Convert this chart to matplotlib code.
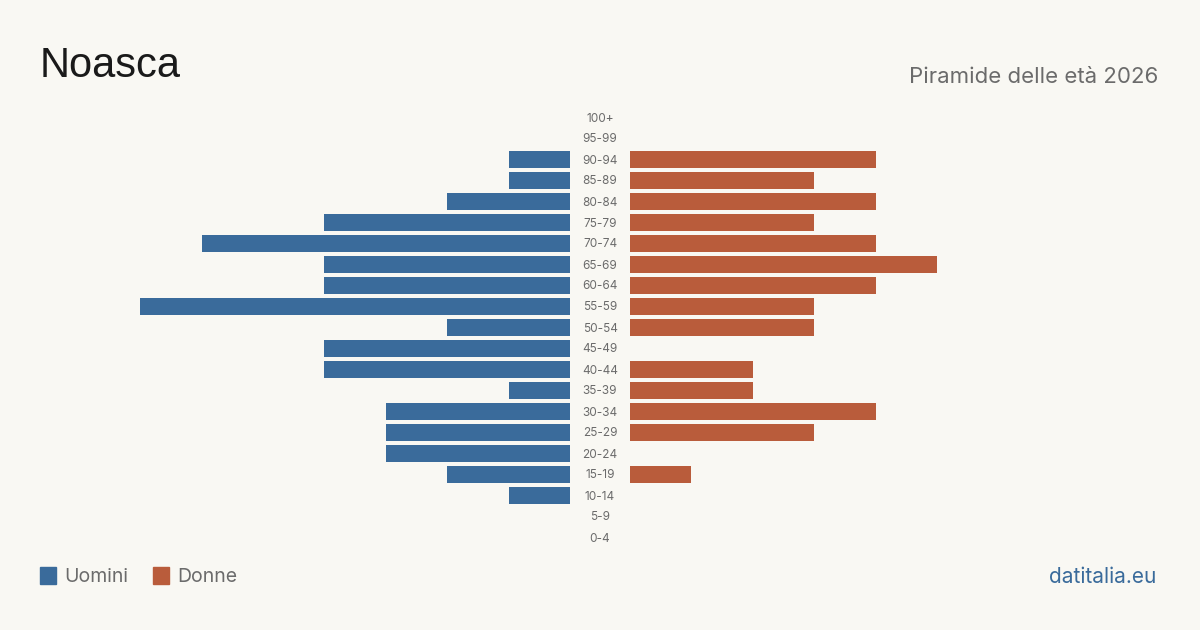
import matplotlib.pyplot as plt
from matplotlib.patches import Rectangle

# Age classes, top to bottom as shown
ages = ["100+", "95-99", "90-94", "85-89", "80-84", "75-79", "70-74", "65-69",
        "60-64", "55-59", "50-54", "45-49", "40-44", "35-39", "30-34", "25-29",
        "20-24", "15-19", "10-14", "5-9", "0-4"]
uomini = [0, 0, 1, 1, 2, 4, 6, 4, 4, 7, 2, 4, 4, 1, 3, 3, 3, 2, 1, 0, 0]
donne = [0, 0, 4, 3, 4, 3, 4, 5, 4, 3, 3, 0, 2, 2, 4, 3, 0, 1, 0, 0, 0]

BG = "#f9f8f3"
BLUE = "#3a6b9b"
RED = "#b95c3b"
GREY = "#6b6b6b"

W, H = 1200, 630
fig = plt.figure(figsize=(12, 6.3), dpi=100, facecolor=BG)

def fx(px):
    return px / W

def fy(py):
    return 1 - py / H

unit = 61.4  # pixels per person
top, bot = 107, 548
n = len(ages)
ypos = list(range(n))

# left axis (men), right edge at x=570
left_w = 530
axl = fig.add_axes([fx(570 - left_w), fy(bot), fx(left_w), (bot - top) / H])
axl.barh(ypos, uomini, height=0.8, color=BLUE)
axl.set_xlim(left_w / unit, 0)
axl.set_ylim(n - 0.5, -0.5)

# right axis (women), left edge at x=630
axr = fig.add_axes([fx(630), fy(bot), fx(left_w), (bot - top) / H])
axr.barh(ypos, donne, height=0.8, color=RED)
axr.set_xlim(0, left_w / unit)
axr.set_ylim(n - 0.5, -0.5)

for ax in (axl, axr):
    ax.set_facecolor("none")
    ax.axis("off")

# age labels in the middle
for i, a in enumerate(ages):
    yy = top + (i + 0.5) * (bot - top) / n + 1
    fig.text(fx(600), fy(yy), a, ha="center", va="center", fontsize=8.5,
             color=GREY, family="Inter")

fig.text(fx(40), fy(66), "Noasca", ha="left", va="center", fontsize=30,
         color="#1a1a1a", family="Liberation Sans")
fig.text(fx(1158), fy(77), "Piramide delle età 2026", ha="right", va="center",
         fontsize=16, color=GREY, family="Inter")

# legend
fig.patches.append(Rectangle((fx(40), fy(584)), fx(16), 17 / H, color=BLUE,
                             transform=fig.transFigure, figure=fig))
fig.text(fx(64), fy(577), "Uomini", ha="left", va="center", fontsize=14,
         color=GREY, family="Inter")
fig.patches.append(Rectangle((fx(153), fy(584)), fx(16), 17 / H, color=RED,
                             transform=fig.transFigure, figure=fig))
fig.text(fx(177), fy(577), "Donne", ha="left", va="center", fontsize=14,
         color=GREY, family="Inter")

fig.text(fx(1156), fy(577), "datitalia.eu", ha="right", va="center",
         fontsize=15, color=BLUE, family="Inter")

fig.savefig("out.png", dpi=100, facecolor=BG)
